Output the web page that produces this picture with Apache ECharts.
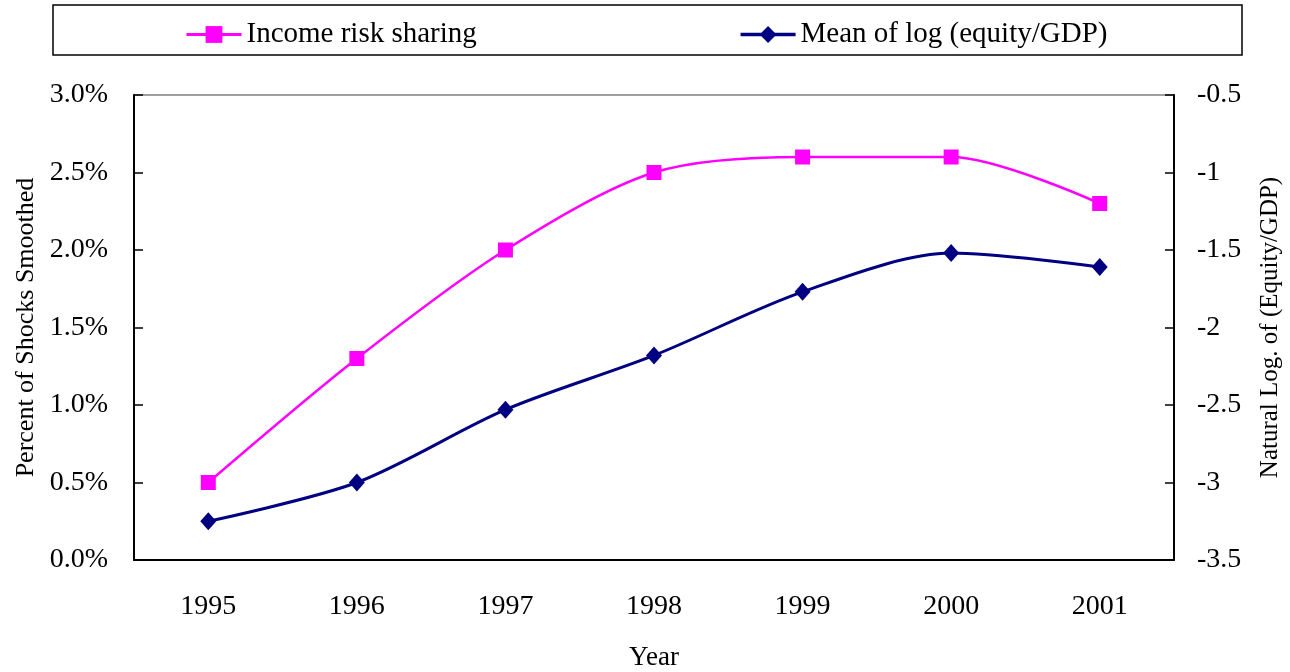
<!DOCTYPE html>
<html>
<head>
<meta charset="utf-8">
<script src="https://cdn.jsdelivr.net/npm/echarts@6/dist/echarts.min.js"></script>
<style>
  html, body { margin: 0; padding: 0; background: #ffffff; }
  #chart { width: 1290px; height: 672px; }
</style>
</head>
<body>
<div id="chart"></div>
<script>
// Years on the category axis
const years = ['1995', '1996', '1997', '1998', '1999', '2000', '2001'];
// Income risk sharing, percent of shocks smoothed (left axis)
const riskSharing = [0.5, 1.3, 2.0, 2.5, 2.6, 2.6, 2.3];
// Mean of log (equity/GDP) (right axis)
const logEquityGdp = [-3.25, -3.0, -2.53, -2.18, -1.77, -1.52, -1.61];

const seriesNames = ['Income risk sharing', 'Mean of log (equity/GDP)'];
const FONT = '"Liberation Serif", "Times New Roman", serif';

const chart = echarts.init(document.getElementById('chart'), null, { renderer: 'canvas' });

chart.setOption({
  backgroundColor: '#ffffff',
  animation: false,
  textStyle: { fontFamily: FONT, color: '#000' },
  graphic: [
    {
      type: 'rect',
      shape: { x: 53, y: 5, width: 1189, height: 50 },
      style: { fill: 'none', stroke: '#000', lineWidth: 1.5 },
      z: 0
    }
  ],
  legend: {
    left: 185,
    top: 20,
    padding: 0,
    itemWidth: 55,
    itemHeight: 21,
    itemGap: 262,
    textStyle: { fontFamily: FONT, fontSize: 29, color: '#000' },
    data: [
      { name: seriesNames[0], lineStyle: { width: 3 } },
      { name: seriesNames[1], lineStyle: { width: 3.5 } }
    ]
  },
  grid: {
    left: 134,
    right: 116,
    top: 95,
    bottom: 112,
    show: true,
    borderColor: '#808080',
    borderWidth: 1.5,
    containLabel: false,
    outerBoundsMode: 'none'
  },
  xAxis: {
    type: 'category',
    data: years,
    boundaryGap: true,
    name: 'Year',
    nameLocation: 'middle',
    nameGap: 84,
    nameTextStyle: { fontFamily: FONT, fontSize: 27, color: '#000' },
    axisLine: { lineStyle: { color: '#000', width: 2 } },
    axisTick: { inside: true, length: 9, alignWithLabel: false, lineStyle: { color: '#000', width: 1.5 } },
    axisLabel: { fontFamily: FONT, fontSize: 28, color: '#000', margin: 33 },
    splitLine: { show: false }
  },
  yAxis: [
    {
      type: 'value',
      min: 0,
      max: 3,
      interval: 0.5,
      name: 'Percent of Shocks Smoothed',
      nameLocation: 'middle',
      nameGap: 95,
      nameRotate: 90,
      nameTextStyle: { fontFamily: FONT, fontSize: 26, color: '#000' },
      axisLine: { show: true, lineStyle: { color: '#000', width: 2 } },
      axisTick: { show: true, inside: true, length: 9, lineStyle: { color: '#000', width: 1.5 } },
      axisLabel: {
        fontFamily: FONT, fontSize: 28, color: '#000', margin: 26,
        formatter: v => v.toFixed(1) + '%'
      },
      splitLine: { show: false }
    },
    {
      type: 'value',
      min: -3.5,
      max: -0.5,
      interval: 0.5,
      position: 'right',
      name: 'Natural Log. of (Equity/GDP)',
      nameLocation: 'middle',
      nameGap: 84,
      nameRotate: 90,
      nameTextStyle: { fontFamily: FONT, fontSize: 25, color: '#000' },
      axisLine: { show: true, lineStyle: { color: '#000', width: 2 } },
      axisTick: { show: true, inside: true, length: 9, lineStyle: { color: '#000', width: 1.5 } },
      axisLabel: { fontFamily: FONT, fontSize: 28, color: '#000', margin: 23 },
      splitLine: { show: false }
    }
  ],
  series: [
    {
      name: seriesNames[0],
      type: 'line',
      yAxisIndex: 0,
      data: riskSharing,
      smooth: 0.3,
      symbol: 'rect',
      symbolSize: 15,
      lineStyle: { color: '#FF00FF', width: 2.5 },
      itemStyle: { color: '#FF00FF' },
      z: 3
    },
    {
      name: seriesNames[1],
      type: 'line',
      yAxisIndex: 1,
      data: logEquityGdp,
      smooth: 0.3,
      symbol: 'diamond',
      symbolSize: [16, 18],
      lineStyle: { color: '#000080', width: 3 },
      itemStyle: { color: '#000080' },
      z: 3
    }
  ]
});
</script>
</body>
</html>
